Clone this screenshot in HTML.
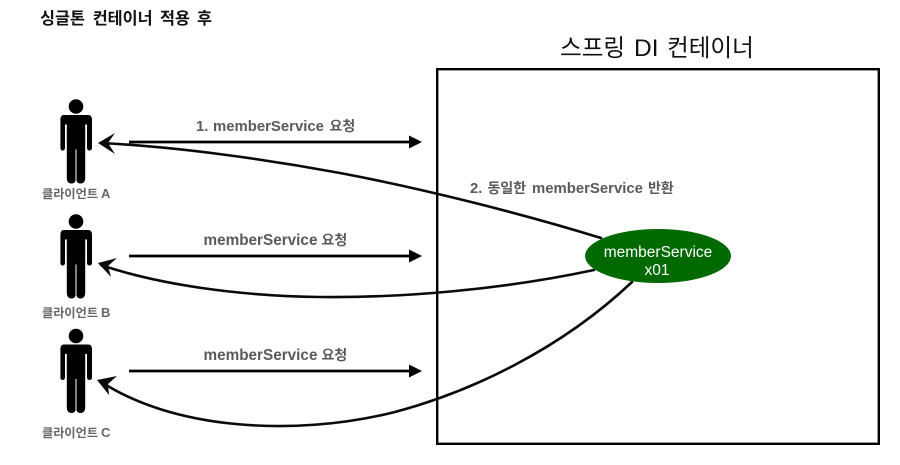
<!DOCTYPE html>
<html><head><meta charset="utf-8">
<style>
html,body{margin:0;padding:0;background:#fff;width:900px;height:465px;overflow:hidden}
svg{display:block}
text{font-family:"Liberation Sans","Noto Sans CJK KR",sans-serif}
.l{font-size:14.9px;font-weight:700;fill:#5a5a5a}
.k{font-size:14px}
.c{font-size:12.2px;font-weight:700;fill:#666}
</style></head><body>
<svg width="900" height="465" viewBox="0 0 900 465" xmlns="http://www.w3.org/2000/svg">
<defs>
<g id="p">
<circle cx="76" cy="0" r="7.3" fill="#000"/>
<path d="M64 8.5H88Q92 8.5 92 13V41Q92 44 89.5 44Q87 44 87 41V18H85.2V71Q85.2 77 80.5 77Q76 77 76 71V42V71Q76 77 71.5 77Q66.8 77 66.8 71V18H65V41Q65 44 62.7 44Q60.4 44 60.4 41V13Q60.4 8.5 64 8.5Z" fill="#000"/>
<path d="M76 43V74" stroke="#fff" stroke-width="1"/>
</g>
</defs>
<text y="24" font-size="16.3" font-weight="700" fill="#111"><tspan x="40">싱글톤</tspan><tspan x="92.7">컨테이너</tspan><tspan x="160">적용</tspan><tspan x="197">후</tspan></text>
<text y="56" font-size="23.6" fill="#111"><tspan x="560">스프링</tspan><tspan x="634" font-size="24.5">DI</tspan><tspan x="667">컨테이너</tspan></text>
<rect x="437.2" y="69.2" width="441.6" height="374.6" fill="none" stroke="#000" stroke-width="2.4"/>

<use href="#p" y="106.5"/>
<use href="#p" y="221.5"/>
<use href="#p" y="336"/>

<g stroke="#000" stroke-width="2.8" fill="none">
<path d="M129 142H412"/><path d="M129 256H412"/><path d="M129 371H412"/>
</g>
<g fill="#000">
<path d="M409 135.5L422 142L409 148.5Z"/>
<path d="M409 249.5L422 256L409 262.5Z"/>
<path d="M409 364.5L422 371L409 377.5Z"/>
</g>

<g stroke="#0a0a0a" stroke-width="2.6" fill="none" stroke-linecap="round">
<path d="M601 238C520 213 420 188 340 173C270 160 180 147 101 143"/>
<path d="M594 270C500 290 400 298 320 297C240 296 160 285 101 265"/>
<path d="M632 282C560 350 470 392 395 412C290 438 170 428 100 381"/>
</g>
<g fill="#0a0a0a">
<path d="M98 143L115 133L108 143L115 154Z"/>
<path d="M98 263L117 258L108 266L111 277Z"/>
<path d="M97 380L117 376L108 384L109 395Z"/>
</g>

<ellipse cx="658" cy="256" rx="73" ry="27" fill="#006a00"/>
<text x="658" y="257" font-size="15.5" fill="#fff" text-anchor="middle">memberService</text>
<text x="657" y="275" font-size="15.5" fill="#fff" text-anchor="middle">x01</text>

<text class="l" y="131"><tspan x="196">1.</tspan><tspan x="213">memberService</tspan><tspan x="329.5" class="k">요청</tspan></text>
<text class="l" y="245" style="font-size:15.3px"><tspan x="203.5">memberService</tspan><tspan x="321.5" class="k">요청</tspan></text>
<text class="l" y="360" style="font-size:15.3px"><tspan x="203.5">memberService</tspan><tspan x="321.5" class="k">요청</tspan></text>
<text class="l" y="193"><tspan x="470">2.</tspan><tspan x="487.5" class="k">동일한</tspan><tspan x="532">memberService</tspan><tspan x="648" class="k">반환</tspan></text>

<text class="c" y="198"><tspan x="42">클라이언트</tspan><tspan x="101" font-size="13">A</tspan></text>
<text class="c" y="317"><tspan x="42">클라이언트</tspan><tspan x="101" font-size="13">B</tspan></text>
<text class="c" y="437"><tspan x="42">클라이언트</tspan><tspan x="101" font-size="13">C</tspan></text>
</svg>
</body></html>
